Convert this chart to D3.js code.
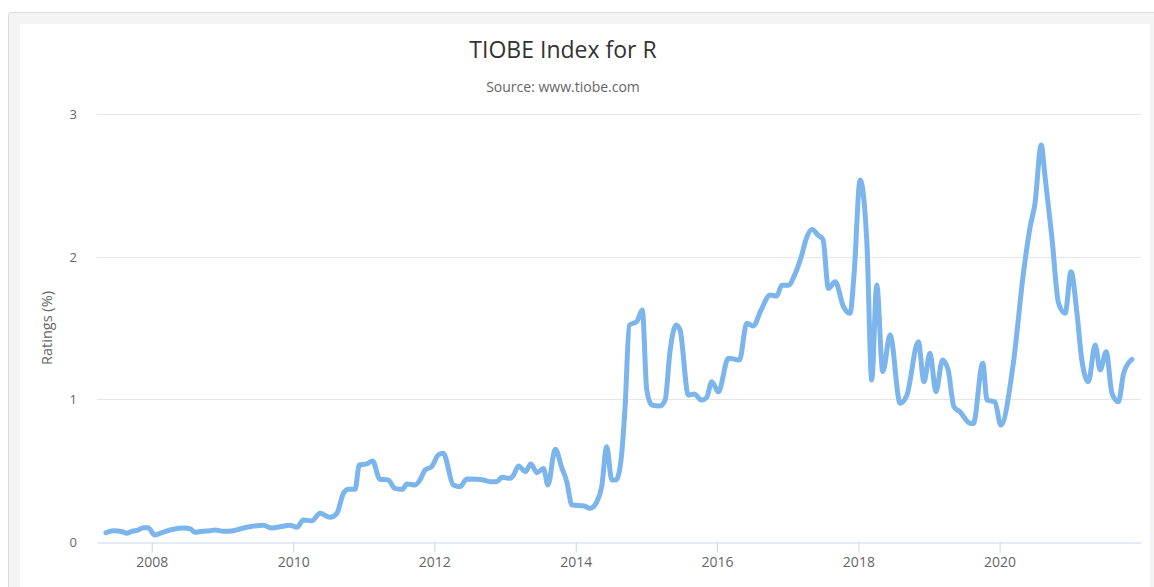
<!DOCTYPE html>
<html>
<head>
<meta charset="utf-8">
<script src="https://cdn.jsdelivr.net/npm/d3@7"></script>
<style>
  body { margin: 0; background: #fff; overflow: hidden; }
  svg { display: block; font-family: "Open Sans", "Noto Sans", sans-serif; }
</style>
</head>
<body>
<div id="chart"></div>
<script>
// values for R
var dates = [
  "2007-05-09","2007-06-16","2007-08-07","2007-08-24","2007-09-19","2007-10-23","2007-11-18","2007-12-14",
  "2008-01-09","2008-01-17","2008-03-01","2008-04-22","2008-06-13","2008-07-17","2008-08-12","2008-09-16",
  "2008-10-29","2008-11-24","2009-01-05","2009-02-26","2009-04-19","2009-05-23","2009-07-31","2009-09-13",
  "2009-10-25","2009-12-16","2010-01-20","2010-02-23","2010-04-08","2010-05-20","2010-07-11","2010-08-15",
  "2010-09-18","2010-10-14","2010-11-17","2010-12-09","2011-01-16","2011-02-16","2011-03-25","2011-05-07",
  "2011-06-11","2011-07-21","2011-08-11","2011-09-23","2011-10-19","2011-11-14","2011-12-18","2012-01-21",
  "2012-02-16","2012-04-08","2012-05-13","2012-06-17","2012-08-08","2012-09-11","2012-10-15","2012-11-19",
  "2012-12-15","2013-01-27","2013-02-13","2013-03-11","2013-04-15","2013-05-14","2013-06-14","2013-07-18",
  "2013-08-10","2013-09-17","2013-10-21","2013-11-16","2013-12-12","2014-02-10","2014-03-16","2014-04-20",
  "2014-05-15","2014-06-10","2014-07-06","2014-07-28","2014-08-23","2014-09-13","2014-10-05","2014-11-12",
  "2014-12-11","2015-01-03","2015-01-29","2015-03-12","2015-04-08","2015-05-03","2015-06-04","2015-06-24",
  "2015-08-06","2015-09-05","2015-10-14","2015-11-09","2015-12-05","2016-01-08","2016-02-29","2016-04-26",
  "2016-06-03","2016-07-07","2016-08-14","2016-10-02","2016-11-05","2016-12-01","2017-01-04","2017-02-08",
  "2017-03-14","2017-04-05","2017-05-07","2017-06-07","2017-07-02","2017-07-30","2017-09-03","2017-10-16",
  "2017-11-19","2017-12-10","2018-01-10","2018-02-14","2018-03-11","2018-04-06","2018-05-07","2018-06-14",
  "2018-08-05","2018-09-09","2018-11-07","2018-12-06","2019-01-06","2019-02-06","2019-03-12","2019-04-10",
  "2019-05-10","2019-06-10","2019-08-01","2019-08-18","2019-10-06","2019-10-28","2019-12-08","2020-01-07",
  "2020-03-12","2020-05-03","2020-06-07","2020-07-02","2020-08-03","2020-08-23","2020-09-27","2020-11-01",
  "2020-12-05","2021-01-04","2021-02-04","2021-03-01","2021-04-04","2021-05-09","2021-06-04","2021-07-05",
  "2021-08-04","2021-09-07","2021-10-03","2021-11-15"
];
var ratings = [
  0.065,0.079,0.070,0.061,0.075,0.084,0.100,0.100,
  0.056,0.049,0.070,0.089,0.098,0.093,0.068,0.075,
  0.079,0.084,0.075,0.079,0.098,0.107,0.117,0.098,
  0.107,0.117,0.103,0.154,0.149,0.201,0.173,0.201,
  0.341,0.369,0.369,0.540,0.547,0.568,0.440,0.435,
  0.376,0.369,0.407,0.400,0.435,0.505,0.528,0.610,
  0.622,0.400,0.388,0.442,0.440,0.435,0.423,0.423,
  0.453,0.446,0.468,0.533,0.493,0.547,0.486,0.516,
  0.400,0.650,0.520,0.420,0.259,0.254,0.236,0.282,
  0.388,0.668,0.435,0.435,0.575,0.948,1.521,1.544,
  1.626,1.065,0.960,0.953,0.995,1.334,1.521,1.486,
  1.030,1.037,0.995,1.014,1.124,1.053,1.288,1.276,
  1.533,1.514,1.621,1.731,1.724,1.800,1.800,1.880,
  2.010,2.120,2.190,2.150,2.120,1.778,1.825,1.649,
  1.603,1.883,2.537,2.094,1.135,1.801,1.194,1.451,
  0.972,1.030,1.404,1.124,1.323,1.053,1.276,1.206,
  0.948,0.913,0.832,0.830,1.253,0.995,0.983,0.820,
  1.253,1.883,2.210,2.374,2.783,2.560,2.140,1.673,
  1.603,1.895,1.603,1.276,1.124,1.381,1.206,1.334,
  1.042,0.983,1.182,1.280
];
var yTicks = [0, 1, 2, 3];
var xTickYears = ["2008", "2010", "2012", "2014", "2016", "2018", "2020"];
var titleText = "TIOBE Index for R";
var subtitleText = "Source: www.tiobe.com";
var yTitle = "Ratings (%)";

var width = 1154, height = 587;
var parseDate = d3.utcParse("%Y-%m-%d");
var parseYear = d3.utcParse("%Y");
var points = dates.map(function(d, i){ return { date: parseDate(d), value: ratings[i] }; });

var svg = d3.select("#chart").append("svg")
  .attr("width", width)
  .attr("height", height);

// card frame
svg.append("rect")
  .attr("x", 8.5).attr("y", 12.5)
  .attr("width", 1160).attr("height", 600)
  .attr("rx", 3)
  .attr("fill", "#f4f4f4")
  .attr("stroke", "#dadada");
svg.append("rect")
  .attr("x", 20).attr("y", 24)
  .attr("width", 1130).attr("height", 600)
  .attr("fill", "#fff");

var x = d3.scaleUtc()
  .domain([parseDate("2007-03-24"), parseDate("2022-01-01")])
  .range([97, 1141]);
var y = d3.scaleLinear()
  .domain([0, 3])
  .range([542, 114]);

svg.append("text")
  .attr("x", 563).attr("y", 58)
  .attr("text-anchor", "middle")
  .attr("fill", "#333")
  .style("font-size", "23px")
  .text(titleText);
svg.append("text")
  .attr("x", 563).attr("y", 92)
  .attr("text-anchor", "middle")
  .attr("fill", "#666")
  .style("font-size", "14px")
  .text(subtitleText);

// grid lines
svg.append("g").selectAll("line")
  .data(yTicks.filter(function(t){ return t > 0; }))
  .enter().append("line")
  .attr("x1", 97).attr("x2", 1141)
  .attr("y1", function(d){ return Math.round(y(d)) + 0.5; })
  .attr("y2", function(d){ return Math.round(y(d)) + 0.5; })
  .attr("stroke", "#e6e6e6");

svg.append("g").selectAll("text")
  .data(yTicks)
  .enter().append("text")
  .attr("x", 77)
  .attr("y", function(d){ return y(d) + 5; })
  .attr("text-anchor", "end")
  .attr("fill", "#666")
  .style("font-size", "13px")
  .text(function(d){ return d; });

svg.append("text")
  .attr("transform", "translate(52," + ((y(0) + y(3)) / 2) + ") rotate(-90)")
  .attr("text-anchor", "middle")
  .attr("fill", "#666")
  .style("font-size", "14.5px")
  .text(yTitle);

// x axis
var xAxis = d3.axisBottom(x)
  .tickValues(xTickYears.map(parseYear))
  .tickFormat(d3.utcFormat("%Y"))
  .tickSizeInner(10)
  .tickSizeOuter(0)
  .tickPadding(5);
var gx = svg.append("g")
  .attr("transform", "translate(0,542.5)")
  .call(xAxis);
gx.select(".domain").attr("stroke", "#ccd6eb");
gx.selectAll(".tick line").attr("stroke", "#ccd6eb");
gx.selectAll(".tick text")
  .attr("fill", "#666")
  .style("font-size", "14px")
  .style("font-family", "'Open Sans', sans-serif");

var line = d3.line()
  .x(function(d){ return x(d.date); })
  .y(function(d){ return y(d.value); })
  .curve(d3.curveMonotoneX);

svg.append("path")
  .datum(points)
  .attr("d", line)
  .attr("fill", "none")
  .attr("stroke", "#7cb5ec")
  .attr("stroke-width", 5)
  .attr("stroke-linejoin", "round")
  .attr("stroke-linecap", "round");
</script>
</body>
</html>
